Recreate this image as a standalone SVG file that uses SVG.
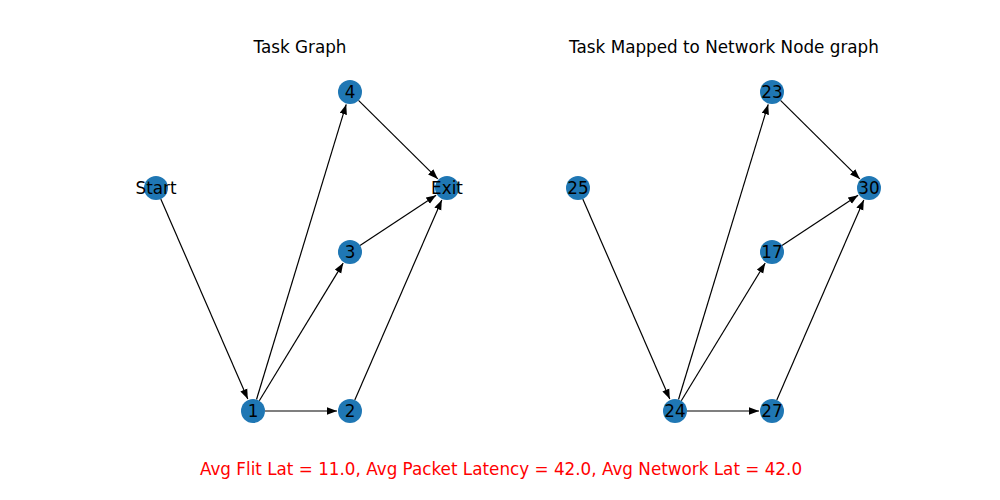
<svg xmlns="http://www.w3.org/2000/svg" width="1000" height="500" viewBox="0 0 1000 500">
<style>
text{font-family:"DejaVu Sans",sans-serif;font-size:16.8px;fill:#000}
.title{text-anchor:middle}
.lbl{text-anchor:middle;dominant-baseline:central}
.node circle{fill:#1f77b4}
.edge{stroke:#000;stroke-width:1.2;fill:none;marker-end:url(#ah)}
.foot{fill:#ff0000;text-anchor:middle}
</style>
<defs>
<marker id="ah" markerUnits="userSpaceOnUse" markerWidth="10" markerHeight="8" refX="8" refY="3" orient="auto" viewBox="0 0 8 6">
<path d="M0,0 L8,3 L0,6 Z" fill="#000"/>
</marker>
</defs>
<rect width="1000" height="500" fill="#fff"/>
<text class="title" x="300" y="53">Task Graph</text>
<text class="title" x="724" y="53">Task Mapped to Network Node graph</text>
<g id="connectors">
<line class="edge" x1="160.8" y1="199" x2="247.8" y2="399.1"/>
<line class="edge" x1="256.5" y1="399.5" x2="346.2" y2="104.4"/>
<line class="edge" x1="259.3" y1="400.8" x2="343.2" y2="263.1"/>
<line class="edge" x1="265" y1="411" x2="337" y2="411"/>
<line class="edge" x1="358.5" y1="100.4" x2="437.8" y2="178.9"/>
<line class="edge" x1="360" y1="245.4" x2="436.1" y2="195.2"/>
<line class="edge" x1="354.8" y1="400" x2="441.8" y2="199.9"/>
<line class="edge" x1="582.8" y1="199" x2="669.8" y2="399.1"/>
<line class="edge" x1="678.5" y1="399.5" x2="768.2" y2="104.4"/>
<line class="edge" x1="681.3" y1="400.8" x2="765.2" y2="263.1"/>
<line class="edge" x1="687" y1="411" x2="759" y2="411"/>
<line class="edge" x1="780.5" y1="100.4" x2="859.8" y2="178.9"/>
<line class="edge" x1="782" y1="245.4" x2="858.1" y2="195.2"/>
<line class="edge" x1="776.8" y1="400" x2="863.8" y2="199.9"/>
</g>
<g id="n-start" class="node"><circle cx="156" cy="188" r="12"/><text class="lbl" x="156" y="188">Start</text></g>
<g id="n-4" class="node"><circle cx="350" cy="92" r="12"/><text class="lbl" x="350" y="92">4</text></g>
<g id="n-exit" class="node"><circle cx="447" cy="188" r="12"/><text class="lbl" x="447" y="188">Exit</text></g>
<g id="n-3" class="node"><circle cx="350" cy="252" r="12"/><text class="lbl" x="350" y="252">3</text></g>
<g id="n-1" class="node"><circle cx="253" cy="411" r="12"/><text class="lbl" x="253" y="411">1</text></g>
<g id="n-2" class="node"><circle cx="350" cy="411" r="12"/><text class="lbl" x="350" y="411">2</text></g>
<g id="n-25" class="node"><circle cx="578" cy="188" r="12"/><text class="lbl" x="578" y="188">25</text></g>
<g id="n-23" class="node"><circle cx="772" cy="92" r="12"/><text class="lbl" x="772" y="92">23</text></g>
<g id="n-30" class="node"><circle cx="869" cy="188" r="12"/><text class="lbl" x="869" y="188">30</text></g>
<g id="n-17" class="node"><circle cx="772" cy="252" r="12"/><text class="lbl" x="772" y="252">17</text></g>
<g id="n-24" class="node"><circle cx="675" cy="411" r="12"/><text class="lbl" x="675" y="411">24</text></g>
<g id="n-27" class="node"><circle cx="772" cy="411" r="12"/><text class="lbl" x="772" y="411">27</text></g>
<text class="foot" x="501" y="475">Avg Flit Lat = 11.0, Avg Packet Latency = 42.0, Avg Network Lat = 42.0</text>
</svg>
